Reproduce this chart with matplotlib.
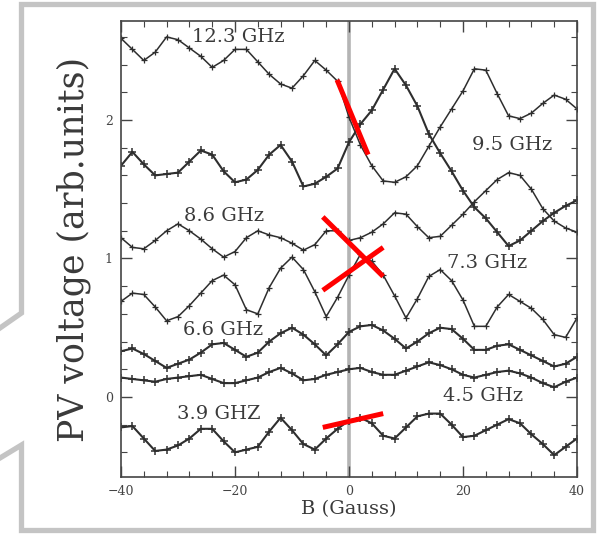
import numpy as np
import matplotlib
matplotlib.use('Agg')
import matplotlib.pyplot as plt
from matplotlib.ticker import MultipleLocator
from matplotlib.lines import Line2D
from matplotlib.patches import Rectangle

# magnetic field grid (Gauss)
B = np.arange(-40, 41, 2)

# PV voltage traces (arb. units), one per frequency
v123 = [2.59, 2.51, 2.43, 2.49, 2.60, 2.58, 2.52, 2.46, 2.38, 2.43,
        2.51, 2.51, 2.42, 2.33, 2.26, 2.23, 2.32, 2.43, 2.36, 2.28,
        2.02, 1.82, 1.67, 1.56, 1.55, 1.59, 1.67, 1.81, 1.95, 2.08,
        2.21, 2.37, 2.36, 2.19, 2.03, 2.01, 2.05, 2.12, 2.18, 2.15, 2.08]
v95 = [1.67, 1.77, 1.68, 1.60, 1.61, 1.62, 1.70, 1.78, 1.75, 1.63,
       1.55, 1.57, 1.64, 1.75, 1.82, 1.70, 1.52, 1.54, 1.59, 1.65,
       1.84, 1.97, 2.07, 2.22, 2.37, 2.25, 2.10, 1.90, 1.76, 1.63,
       1.49, 1.37, 1.29, 1.19, 1.09, 1.13, 1.20, 1.27, 1.33, 1.38, 1.42]
v86 = [1.15, 1.08, 1.07, 1.13, 1.20, 1.25, 1.20, 1.14, 1.07, 1.01,
       1.05, 1.15, 1.20, 1.17, 1.15, 1.11, 1.06, 1.10, 1.20, 1.20,
       1.13, 1.15, 1.19, 1.25, 1.33, 1.32, 1.23, 1.15, 1.16, 1.24,
       1.32, 1.41, 1.49, 1.57, 1.62, 1.60, 1.50, 1.36, 1.27, 1.22, 1.19]
v73 = [0.69, 0.75, 0.74, 0.65, 0.55, 0.58, 0.66, 0.75, 0.84, 0.88,
       0.81, 0.63, 0.60, 0.79, 0.93, 1.01, 0.92, 0.76, 0.58, 0.72,
       0.88, 1.03, 0.98, 0.88, 0.73, 0.57, 0.71, 0.87, 0.92, 0.84,
       0.70, 0.51, 0.51, 0.65, 0.74, 0.69, 0.64, 0.56, 0.45, 0.43, 0.57]
v66 = [0.33, 0.35, 0.31, 0.26, 0.21, 0.24, 0.27, 0.32, 0.38, 0.39,
       0.34, 0.29, 0.32, 0.40, 0.46, 0.50, 0.45, 0.38, 0.30, 0.38,
       0.47, 0.51, 0.52, 0.48, 0.42, 0.35, 0.40, 0.46, 0.50, 0.49,
       0.42, 0.34, 0.34, 0.37, 0.38, 0.34, 0.30, 0.26, 0.22, 0.24, 0.29]
v45 = [0.14, 0.13, 0.12, 0.11, 0.13, 0.14, 0.15, 0.16, 0.13, 0.10,
       0.10, 0.12, 0.14, 0.18, 0.21, 0.17, 0.12, 0.13, 0.16, 0.18,
       0.20, 0.21, 0.18, 0.16, 0.16, 0.19, 0.22, 0.25, 0.23, 0.20,
       0.16, 0.14, 0.16, 0.18, 0.19, 0.17, 0.14, 0.10, 0.07, 0.11, 0.14]
v39 = [-0.22, -0.21, -0.30, -0.39, -0.38, -0.35, -0.30, -0.23, -0.23, -0.32,
       -0.40, -0.38, -0.36, -0.25, -0.15, -0.24, -0.34, -0.38, -0.30, -0.23,
       -0.17, -0.15, -0.19, -0.28, -0.30, -0.22, -0.14, -0.12, -0.12, -0.20,
       -0.29, -0.28, -0.24, -0.20, -0.16, -0.19, -0.27, -0.34, -0.42, -0.36, -0.30]

traces = [v123, v95, v86, v73, v66, v45, v39]
heavy = [False, True, False, False, True, True, True]

# curve labels and where they sit (B, V)
labels = ['12.3 GHz', '9.5 GHz', '8.6 GHz', '7.3 GHz', '6.6 GHz', '4.5 GHz', '3.9 GHZ']
label_x = [-27.6, 21.6, -28.9, 17.2, -29.2, 16.5, -30.1]
label_y = [2.60, 1.82, 1.31, 0.97, 0.48, 0.01, -0.12]

# red slope marks drawn over the data (B, V endpoints)
red_x = [[-2.1, 3.35], [-4.6, 6.0], [-4.6, 6.0], [-4.6, 6.0]]
red_y = [[2.29, 1.75], [1.30, 0.87], [0.77, 1.08], [-0.22, -0.12]]

fig = plt.figure(figsize=(6, 5.35), dpi=100)
ax = fig.add_axes([121/600, 1 - 477/535, 456/600, 456/535])

ax.axvline(0, color='#b4b4b4', lw=2.6, zorder=1)

for v, h in zip(traces, heavy):
    ax.plot(B, v, color='#2e2e2e', lw=1.5 if h else 1.1, marker='+',
            ms=5.5 if h else 5, mew=1.1 if h else 0.9, zorder=2)

for t, x, y in zip(labels, label_x, label_y):
    ax.text(x, y, t, fontsize=14, family='DejaVu Serif', color='#3a3a3a',
            va='center', ha='left', zorder=3)

for xs, ys in zip(red_x, red_y):
    ax.plot(xs, ys, color='red', lw=3.6, solid_capstyle='butt', zorder=4)

ax.set_xlim(-40, 40)
ax.set_ylim(-0.578, 2.715)
ax.xaxis.set_major_locator(MultipleLocator(20))
ax.xaxis.set_minor_locator(MultipleLocator(4))
ax.yaxis.set_major_locator(MultipleLocator(1))
ax.yaxis.set_minor_locator(MultipleLocator(0.2))
ax.tick_params(which='both', direction='in', top=True, right=True,
               color='#444444', labelsize=9, labelcolor='#444444')
ax.tick_params(which='major', length=8, width=1.0, pad=6)
ax.tick_params(which='minor', length=4, width=0.8)
for lab in ax.get_xticklabels() + ax.get_yticklabels():
    lab.set_family('DejaVu Serif')
for sp in ax.spines.values():
    sp.set_color('#444444')
    sp.set_linewidth(1.2)

ax.set_ylabel('PV voltage (arb.units)', fontsize=25, family='DejaVu Serif',
              color='#3a3a3a', labelpad=10)
ax.set_xlabel('B (Gauss)', fontsize=14, family='DejaVu Serif',
              color='#3a3a3a', labelpad=1)

# white strip that trims the bottom of the axis title, then the grey callout frame
fig.add_artist(Rectangle((22/600, 1 - 528/535), 572/600, 9/535,
                         transform=fig.transFigure, color='white', zorder=5))
fx = [0, 21.5, 21.5, 593.5, 593.5, 21.5, 21.5, 0]
fy = [458, 445, 530.5, 530.5, 4.5, 4.5, 313, 328]
fig.add_artist(Line2D([x/600 for x in fx], [1 - y/535 for y in fy],
                      transform=fig.transFigure, color='#c4c4c4', lw=3.8,
                      solid_joinstyle='miter', zorder=6))

fig.savefig('out.png', dpi=100)
